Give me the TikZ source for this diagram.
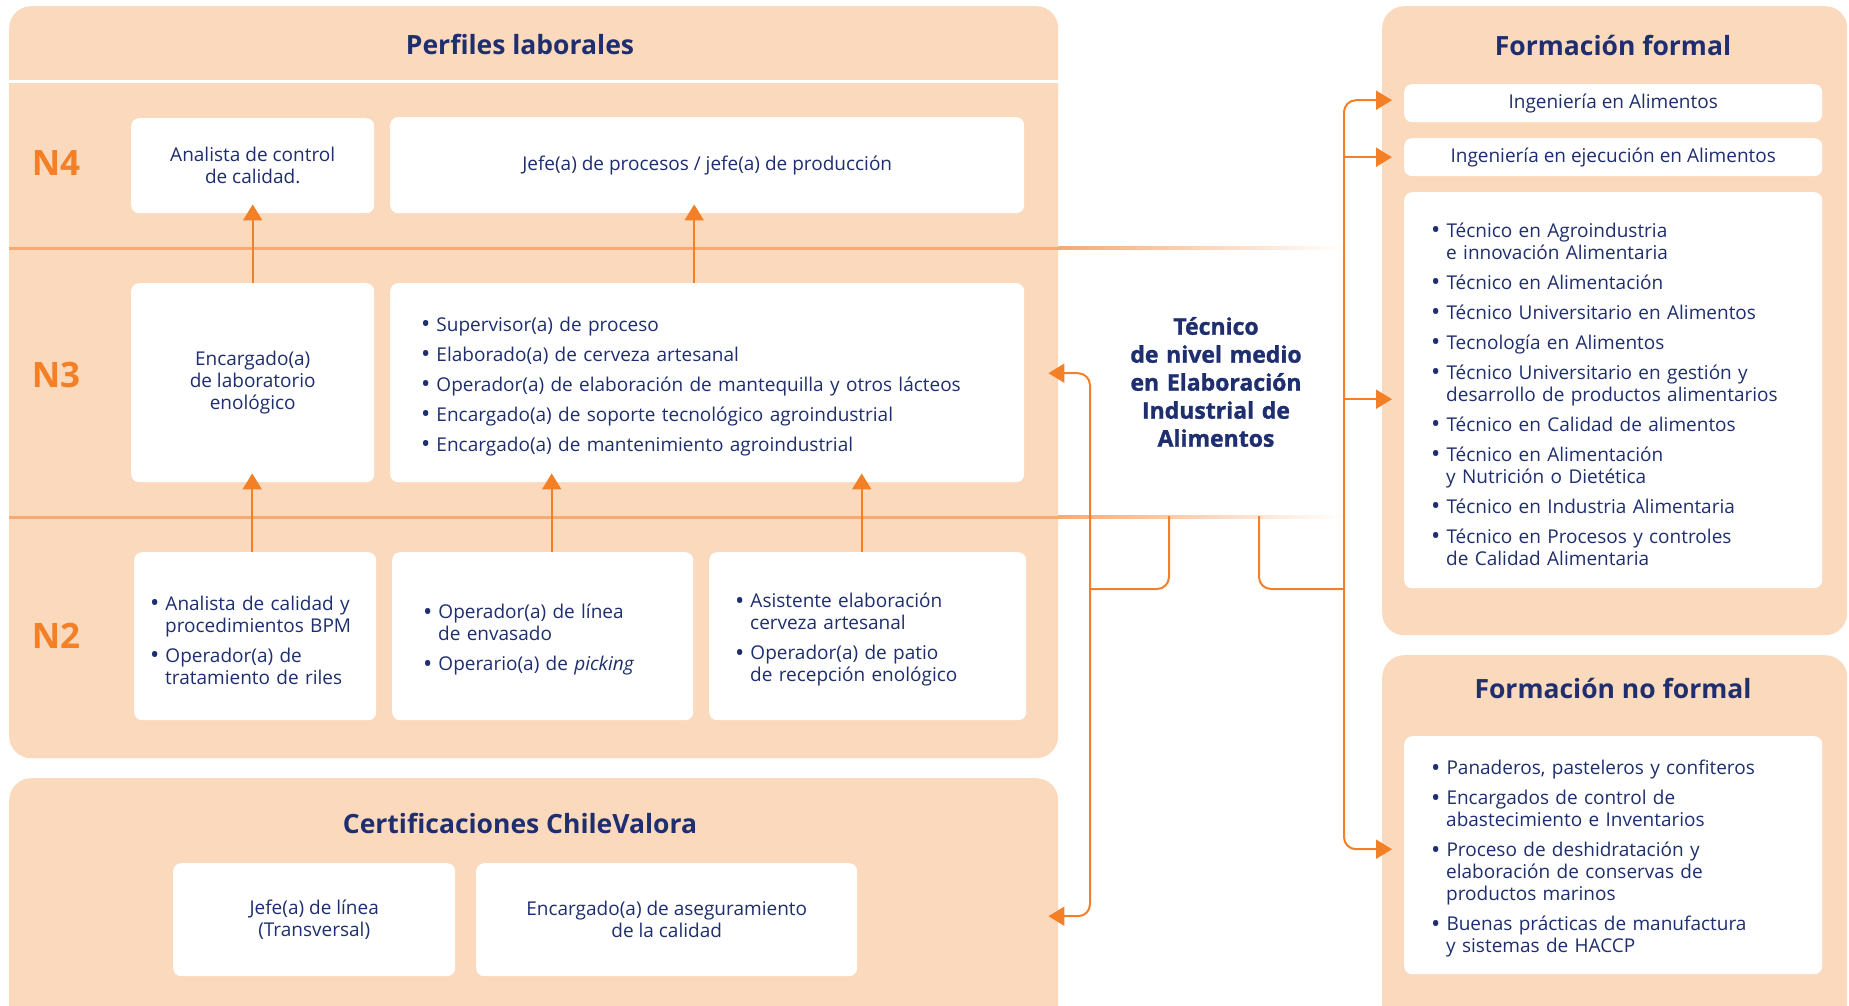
\documentclass[tikz,border=0pt]{standalone}
\usepackage{fontspec}
\setmainfont{Open Sans}
\newfontfamily\gruesa{Open Sans}[BoldFeatures={FakeBold=1.2}]
\usepackage{enumitem}
\usetikzlibrary{arrows.meta, positioning}
\definecolor{peach}{RGB}{251,217,189}
\definecolor{navy}{RGB}{30,46,110}
\definecolor{naranja}{RGB}{243,128,38}
\definecolor{raya}{RGB}{245,170,115}
\newcommand\punto{\raisebox{-1.5pt}{\scalebox{1.3}{\textbullet}}}
\newenvironment{puntos}{\begin{itemize}[label=\punto, leftmargin=15pt, labelwidth=9pt,
  labelsep=6pt, align=left, itemsep=8pt, parsep=0pt, topsep=0pt, partopsep=0pt]}{\end{itemize}}
\tikzset{
  panel/.style={fill=peach, rounded corners=22pt, inner sep=0pt, anchor=north west},
  card/.style={
    fill=white, rounded corners=8pt, anchor=north west,
    text=navy, font=\fontsize{19pt}{22pt}\selectfont,
    align=center, inner sep=0pt
  },
  lista/.style={card, align=left, inner xsep=#1},
  titulo/.style={text=navy, font=\bfseries\fontsize{26.5pt}{30pt}\selectfont},
  nivel/.style={text=naranja, font=\bfseries\fontsize{35pt}{36pt}\selectfont},
  flecha/.style={-{Triangle[length=16pt,width=19pt]}},
  sube/.style={naranja, line width=2pt, flecha, shorten >=-9pt},
  conn/.style={naranja, line width=2pt, rounded corners=12pt}
}

\begin{document}
\begin{tikzpicture}[x=1pt, y=-1pt]
  \useasboundingbox (0,0) rectangle (1849,1006);

  % panels
  \node[panel, minimum width=1049pt, minimum height=752pt] (perf) at (9,6) {};
  \node[panel, minimum width=1049pt, minimum height=252pt] (cert) at (9,778) {};
  \node[panel, minimum width=465pt, minimum height=629pt] (formal) at (1382,6) {};
  \node[panel, minimum width=465pt, minimum height=380pt] (noformal) at (1382,655) {};

  % lines between levels
  \draw[white, line width=3pt] (9,82) -- (1058,82);
  \draw[raya, line width=3pt] (9,248) -- (1058,248);
  \draw[raya, line width=3pt] (9,517) -- (1058,517);
  \shade[left color=raya, right color=white] (1058,246.5) rectangle (1345,249.5);
  \shade[left color=raya, right color=white] (1058,515.5) rectangle (1345,518.5);

  \node[titulo] (tperf) at (520,44) {Perfiles laborales};
  \node[titulo] (tcert) at (520,823) {Certificaciones ChileValora};
  \node[titulo] (tformal) at (1613,45) {Formación formal};
  \node[titulo] (tnoformal) at (1613,688) {Formación no formal};

  \node[nivel] (n4) at (56,163) {N4};
  \node[nivel] (n3) at (56,375) {N3};
  \node[nivel] (n2) at (56,636) {N2};

  % N4
  \node[card, minimum width=243pt, minimum height=95pt] (a1) at (131,118) {Analista de control\\de calidad.};
  \node[card, minimum width=634pt, minimum height=96pt] (j1) at (390,117) {Jefe(a) de procesos / jefe(a) de producción};

  % N3
  \node[card, minimum width=243pt, minimum height=199pt] (e1) at (131,283) {Encargado(a)\\de laboratorio\\enológico};
  \node[lista=31pt, text width=572pt, minimum height=199pt] (s1) at (390,283) {\begin{puntos}
    \item Supervisor(a) de proceso
    \item Elaborado(a) de cerveza artesanal
    \item Operador(a) de elaboración de mantequilla y otros lácteos
    \item Encargado(a) de soporte tecnológico agroindustrial
    \item Encargado(a) de mantenimiento agroindustrial
  \end{puntos}};

  % N2
  \node[lista=16pt, text width=210pt, minimum height=168pt] (n2a) at (134,552) {\begin{puntos}
    \item Analista de calidad y\\procedimientos BPM
    \item Operador(a) de\\tratamiento de riles
  \end{puntos}};
  \node[lista=31pt, text width=239pt, minimum height=168pt] (n2b) at (392,552) {\begin{puntos}
    \item Operador(a) de línea\\de envasado
    \item Operario(a) de \textit{picking}
  \end{puntos}};
  \node[lista=26pt, text width=265pt, minimum height=168pt] (n2c) at (709,552) {\begin{puntos}
    \item Asistente elaboración\\cerveza artesanal
    \item Operador(a) de patio\\de recepción enológico
  \end{puntos}};

  \draw[sube] (e1.north) -- (a1.south);
  \draw[sube] ([xshift=-13pt]s1.north) -- ([xshift=-13pt]s1.north |- j1.south);
  \draw[sube] ([xshift=-3pt]n2a.north) -- ([xshift=-3pt]n2a.north |- e1.south);
  \draw[sube] ([xshift=9pt]n2b.north) -- ([xshift=9pt]n2b.north |- s1.south);
  \draw[sube] ([xshift=-6pt]n2c.north) -- ([xshift=-6pt]n2c.north |- s1.south);

  % ChileValora
  \node[card, minimum width=282pt, minimum height=113pt] (c1) at (173,863) {Jefe(a) de línea\\(Transversal)};
  \node[card, minimum width=381pt, minimum height=113pt] (c2) at (476,863) {Encargado(a) de aseguramiento\\de la calidad};

  % formal
  \node[card, minimum width=418pt, minimum height=38pt] (f1) at (1404,84) {Ingeniería en Alimentos};
  \node[card, minimum width=418pt, minimum height=38pt] (f2) at (1404,138) {Ingeniería en ejecución en Alimentos};
  \node[lista=27pt, text width=364pt, minimum height=396pt] (f3) at (1404,192) {\begin{puntos}
    \item Técnico en Agroindustria\\e innovación Alimentaria
    \item Técnico en Alimentación
    \item Técnico Universitario en Alimentos
    \item Tecnología en Alimentos
    \item Técnico Universitario en gestión y\\desarrollo de productos alimentarios
    \item Técnico en Calidad de alimentos
    \item Técnico en Alimentación\\y Nutrición o Dietética
    \item Técnico en Industria Alimentaria
    \item Técnico en Procesos y controles\\de Calidad Alimentaria
  \end{puntos}};

  % no formal
  \node[lista=27pt, text width=364pt, minimum height=238pt] (nf) at (1404,736) {\begin{puntos}
    \item Panaderos, pasteleros y confiteros
    \item Encargados de control de\\abastecimiento e Inventarios
    \item Proceso de deshidratación y\\elaboración de conservas de\\productos marinos
    \item Buenas prácticas de manufactura\\y sistemas de HACCP
  \end{puntos}};

  % the specialty in the middle
  \node[text=navy, font=\gruesa\bfseries\fontsize{23pt}{28pt}\selectfont, align=center,
        text width=220pt, minimum height=268pt] (tec) at (1216,382)
        {Técnico\\de nivel medio\\en Elaboración\\Industrial de\\Alimentos};

  \coordinate (jl) at (1090,589);
  \coordinate (jr) at (1344,589);
  \draw[conn] ([xshift=-47pt]tec.south) |- (jl);
  \draw[conn] ([xshift=43pt]tec.south) |- (jr);
  \draw[conn, flecha, shorten >=-10pt] (jl) |- ([yshift=9pt]perf.east);
  \draw[conn, flecha, shorten >=-10pt] (jl) |- ([yshift=-12pt]cert.east);
  \draw[conn, flecha, shorten >=12pt] (jr) |- ([yshift=3pt]f1.west);
  \draw[conn, flecha, shorten >=12pt] (f2.west -| jr) -- (f2.west);
  \draw[conn, flecha, shorten >=12pt] ([yshift=-9pt]f3.west -| jr) -- ([yshift=-9pt]f3.west);
  \draw[conn, flecha, shorten >=12pt] (jr) |- ([yshift=6pt]nf.west);
\end{tikzpicture}
\end{document}
